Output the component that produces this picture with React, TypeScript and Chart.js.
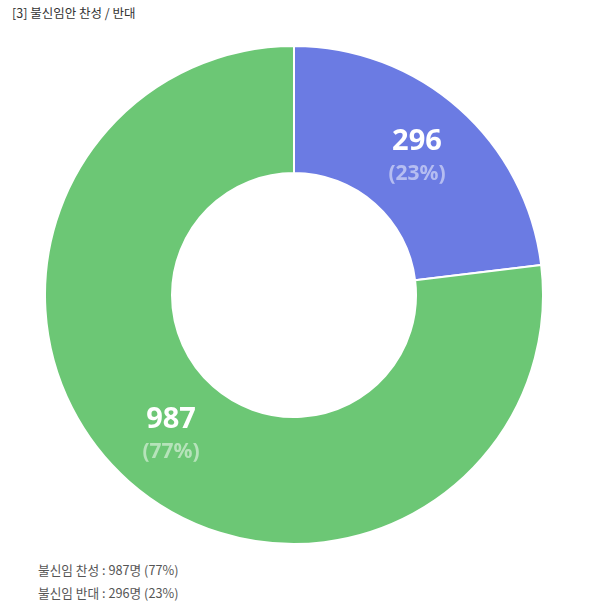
import React, { useEffect, useRef } from "react";
import { Chart, registerables } from "chart.js";

Chart.register(...registerables);

const TITLE = "[3] 불신임안 찬성 / 반대";
const labels = ["불신임 반대", "불신임 찬성"];
const values = [296, 987];
const percents = [23, 77];
const colors = ["#6b7be3", "#6cc775"];
const legendOrder = [1, 0];

const FONT = "'Noto Sans CJK KR', 'Noto Sans', sans-serif";

const labelPlugin = {
  id: "sliceLabels",
  afterDatasetsDraw(chart: any) {
    const ctx = chart.ctx;
    const meta = chart.getDatasetMeta(0);
    meta.data.forEach((arc: any, i: number) => {
      const p = arc.tooltipPosition();
      ctx.save();
      ctx.textAlign = "center";
      ctx.textBaseline = "middle";
      ctx.fillStyle = "#ffffff";
      ctx.font = "bold 29px 'Noto Sans', sans-serif";
      ctx.fillText(String(values[i]), p.x, p.y - 14);
      ctx.fillStyle = "rgba(255,255,255,0.5)";
      ctx.font = "bold 21px 'Noto Sans', sans-serif";
      ctx.fillText(`(${percents[i]}%)`, p.x, p.y + 18);
      ctx.restore();
    });
  },
};

export default function App() {
  const ref = useRef<HTMLCanvasElement | null>(null);
  useEffect(() => {
    if (!ref.current) return;
    const chart = new Chart(ref.current, {
      type: "doughnut",
      data: {
        labels,
        datasets: [
          {
            data: values,
            backgroundColor: colors,
            borderColor: "#ffffff",
            borderWidth: 2,
          },
        ],
      },
      options: {
        animation: false,
        responsive: false,
        cutout: "49%",
        layout: { padding: 0 },
        plugins: { legend: { display: false }, tooltip: { enabled: false } },
      },
      plugins: [labelPlugin],
    });
    return () => chart.destroy();
  }, []);

  return (
    <div
      style={{
        position: "absolute",
        left: 0,
        top: 0,
        width: 600,
        height: 610,
        background: "#fff",
        fontFamily: FONT,
      }}
    >
      <div
        style={{
          position: "absolute",
          left: 12,
          top: 4,
          fontSize: 12.5,
          color: "#333",
          lineHeight: "18px",
        }}
      >
        {TITLE}
      </div>
      <canvas
        ref={ref}
        width={500}
        height={500}
        style={{ position: "absolute", left: 44, top: 45, width: 500, height: 500 }}
      />
      <div
        style={{
          position: "absolute",
          left: 38,
          top: 558,
          fontSize: 12.7,
          color: "#555",
          lineHeight: "23px",
        }}
      >
        {legendOrder.map((i) => (
          <div key={i}>
            {labels[i]} : {values[i]}명 ({percents[i]}%)
          </div>
        ))}
      </div>
    </div>
  );
}
